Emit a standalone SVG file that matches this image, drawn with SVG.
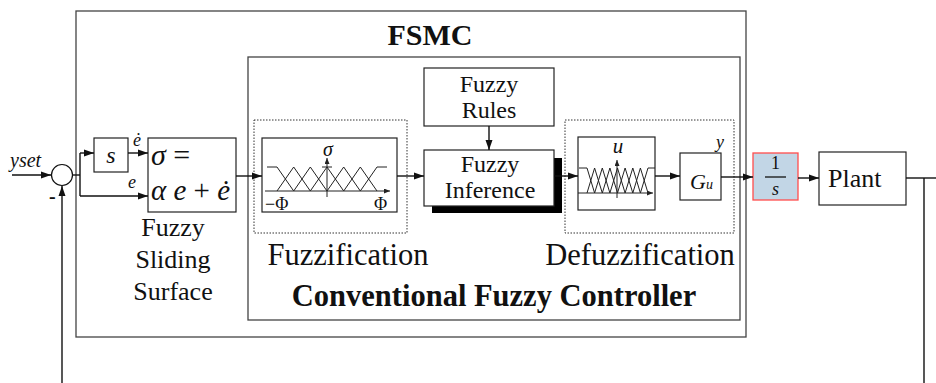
<svg xmlns="http://www.w3.org/2000/svg" width="936" height="383" viewBox="0 0 936 383">
<style>
.box{fill:#fff;stroke:#222;stroke-width:1.2}
.frame{fill:none;stroke:#444;stroke-width:1.3}
.dot{fill:none;stroke:#333;stroke-width:1;stroke-dasharray:1.5,1.5}
.ln{fill:none;stroke:#111;stroke-width:1.4}
.mf{fill:none;stroke:#222;stroke-width:1}
.t{font-family:"Liberation Serif","Times New Roman",serif;fill:#111}
.i{font-style:italic}
.b{font-weight:bold}
</style>
<defs>
<marker id="ah" markerUnits="userSpaceOnUse" markerWidth="10" markerHeight="8" refX="10" refY="4" orient="auto">
<path d="M0,0.5 L10,4 L0,7.5 z" fill="#111"/>
</marker>
<marker id="sa" markerUnits="userSpaceOnUse" markerWidth="6" markerHeight="5" refX="6" refY="2.5" orient="auto">
<path d="M0,0 L6,2.5 L0,5 z" fill="#222"/>
</marker>
</defs>

<g id="fsmc">
<rect class="frame" x="76" y="11" width="670" height="326"/>
<text class="t b" x="430" y="45" font-size="30" text-anchor="middle">FSMC</text>
</g>

<g id="cfc">
<rect class="frame" x="248" y="57" width="492" height="263"/>
<text class="t b" x="494" y="306" font-size="30.5" text-anchor="middle">Conventional Fuzzy Controller</text>
</g>

<g id="sum">
<circle cx="62" cy="175" r="10.5" fill="#fff" stroke="#111" stroke-width="1.2"/>
<text class="t i" x="10" y="167" font-size="20">yset</text>
<text class="t b" x="49" y="203" font-size="20">-</text>
</g>

<g id="sblock">
<rect class="box" x="94" y="138" width="34" height="34"/>
<text class="t i" x="111" y="163" font-size="24" text-anchor="middle">s</text>
</g>

<g id="sigma">
<rect class="box" x="148" y="138" width="88" height="74"/>
<text class="t" x="151" y="165" font-size="30"><tspan font-style="italic">σ</tspan> =</text>
<text class="t" x="151" y="200" font-size="29"><tspan font-style="italic">α e</tspan> + <tspan font-style="italic">ė</tspan></text>
<text class="t" x="173" y="236" font-size="26" text-anchor="middle">Fuzzy</text>
<text class="t" x="173" y="268" font-size="26" text-anchor="middle">Sliding</text>
<text class="t" x="173" y="300" font-size="26" text-anchor="middle">Surface</text>
</g>

<g id="fuzzification">
<rect class="dot" x="254" y="120" width="153" height="113"/>
<rect class="box" x="262" y="138" width="135" height="74"/>
<line class="mf" x1="265" y1="191" x2="390" y2="191" marker-end="url(#sa)"/>
<line class="mf" x1="327" y1="197" x2="327" y2="158" marker-end="url(#sa)"/>
<line class="mf" x1="322" y1="167" x2="332" y2="167"/>
<path class="mf" d="M267,167 H277 L293.7,191 M277,191 L293.7,167 L310.3,191 M293.7,191 L310.3,167 L327,191 M310.3,191 L327,167 L343.7,191 M327,191 L343.7,167 L360.3,191 M343.7,191 L360.3,167 L377,191 M360.3,191 L377,167 H387"/>
<text class="t i" x="328" y="156" font-size="20" text-anchor="middle">σ</text>
<text class="t" x="265" y="210" font-size="18">−Φ</text>
<text class="t" x="374" y="210" font-size="18">Φ</text>
<text class="t" x="348" y="265" font-size="30.5" text-anchor="middle">Fuzzification</text>
</g>

<g id="rules">
<rect class="box" x="424" y="68" width="130" height="58"/>
<text class="t" x="489" y="92" font-size="24" text-anchor="middle">Fuzzy</text>
<text class="t" x="489" y="118" font-size="24" text-anchor="middle">Rules</text>
</g>

<g id="inference">
<rect x="432" y="158" width="130" height="55" fill="#000"/>
<rect class="box" x="424" y="150" width="130" height="56"/>
<text class="t" x="490" y="172" font-size="24" text-anchor="middle">Fuzzy</text>
<text class="t" x="490" y="198" font-size="24" text-anchor="middle">Inference</text>
</g>

<g id="defuzzification">
<rect class="dot" x="565" y="120" width="169" height="113"/>
<rect class="box" x="578" y="137" width="77" height="73"/>
<line class="mf" x1="578" y1="193" x2="653" y2="193" marker-end="url(#sa)"/>
<line class="mf" x1="617" y1="198" x2="617" y2="160" marker-end="url(#sa)"/>
<path class="mf" d="M579,168 H587 L594.6,193 M587,193 L594.6,168 L602.3,193 M594.6,193 L602.3,168 L609.9,193 M602.3,193 L609.9,168 L617.5,193 M609.9,193 L617.5,168 L625.1,193 M617.5,193 L625.1,168 L632.8,193 M625.1,193 L632.8,168 L640.4,193 M632.8,193 L640.4,168 L648,193 M640.4,193 L648,168 H655"/>
<text class="t i" x="618" y="153" font-size="21" text-anchor="middle">u</text>
<text class="t" x="640" y="265" font-size="30.5" text-anchor="middle">Defuzzification</text>
</g>

<g id="gu">
<rect class="box" x="680" y="153" width="41" height="47"/>
<text class="t i" x="690" y="189" font-size="22">G</text>
<text class="t i" x="706" y="189" font-size="14">u</text>
<text class="t i" x="720" y="148" font-size="18" text-anchor="middle">y</text>
</g>

<g id="integrator">
<rect x="753" y="153" width="45" height="47" fill="#c2d6e6" stroke="#ff4d4d" stroke-width="1.3"/>
<text class="t" x="775.5" y="169" font-size="18" text-anchor="middle">1</text>
<line x1="765" y1="177" x2="786" y2="177" stroke="#111" stroke-width="1.3"/>
<text class="t i" x="775.5" y="195" font-size="18" text-anchor="middle">s</text>
</g>

<g id="plant">
<rect class="box" x="819" y="152" width="87" height="53" stroke="#444"/>
<text class="t" x="828" y="187" font-size="26">Plant</text>
</g>

<g id="connectors">
<line class="ln" x1="12" y1="175" x2="51" y2="175" marker-end="url(#ah)"/>
<line class="ln" x1="62" y1="383" x2="62" y2="186" marker-end="url(#ah)"/>
<line class="ln" x1="73" y1="175" x2="80" y2="175"/>
<line class="ln" x1="80" y1="153" x2="80" y2="196"/>
<line class="ln" x1="80" y1="153" x2="94" y2="153" marker-end="url(#ah)"/>
<line class="ln" x1="80" y1="196" x2="148" y2="196" marker-end="url(#ah)"/>
<line class="ln" x1="128" y1="153" x2="148" y2="153" marker-end="url(#ah)"/>
<text class="t i" x="137" y="146" font-size="18" text-anchor="middle">ė</text>
<text class="t i" x="132" y="188" font-size="18" text-anchor="middle">e</text>
<line class="ln" x1="236" y1="176" x2="262" y2="176" marker-end="url(#ah)"/>
<line class="ln" x1="397" y1="176" x2="424" y2="176" marker-end="url(#ah)"/>
<line class="ln" x1="489" y1="126" x2="489" y2="150" marker-end="url(#ah)"/>
<line class="ln" x1="554" y1="176" x2="578" y2="176" marker-end="url(#ah)"/>
<line class="ln" x1="655" y1="176" x2="680" y2="176" marker-end="url(#ah)"/>
<line class="ln" x1="721" y1="177" x2="753" y2="177" marker-end="url(#ah)"/>
<line class="ln" x1="798" y1="178" x2="819" y2="178" marker-end="url(#ah)"/>
<line class="ln" x1="906" y1="178" x2="936" y2="178"/>
<line class="ln" x1="924" y1="178" x2="924" y2="383"/>
</g>
</svg>
